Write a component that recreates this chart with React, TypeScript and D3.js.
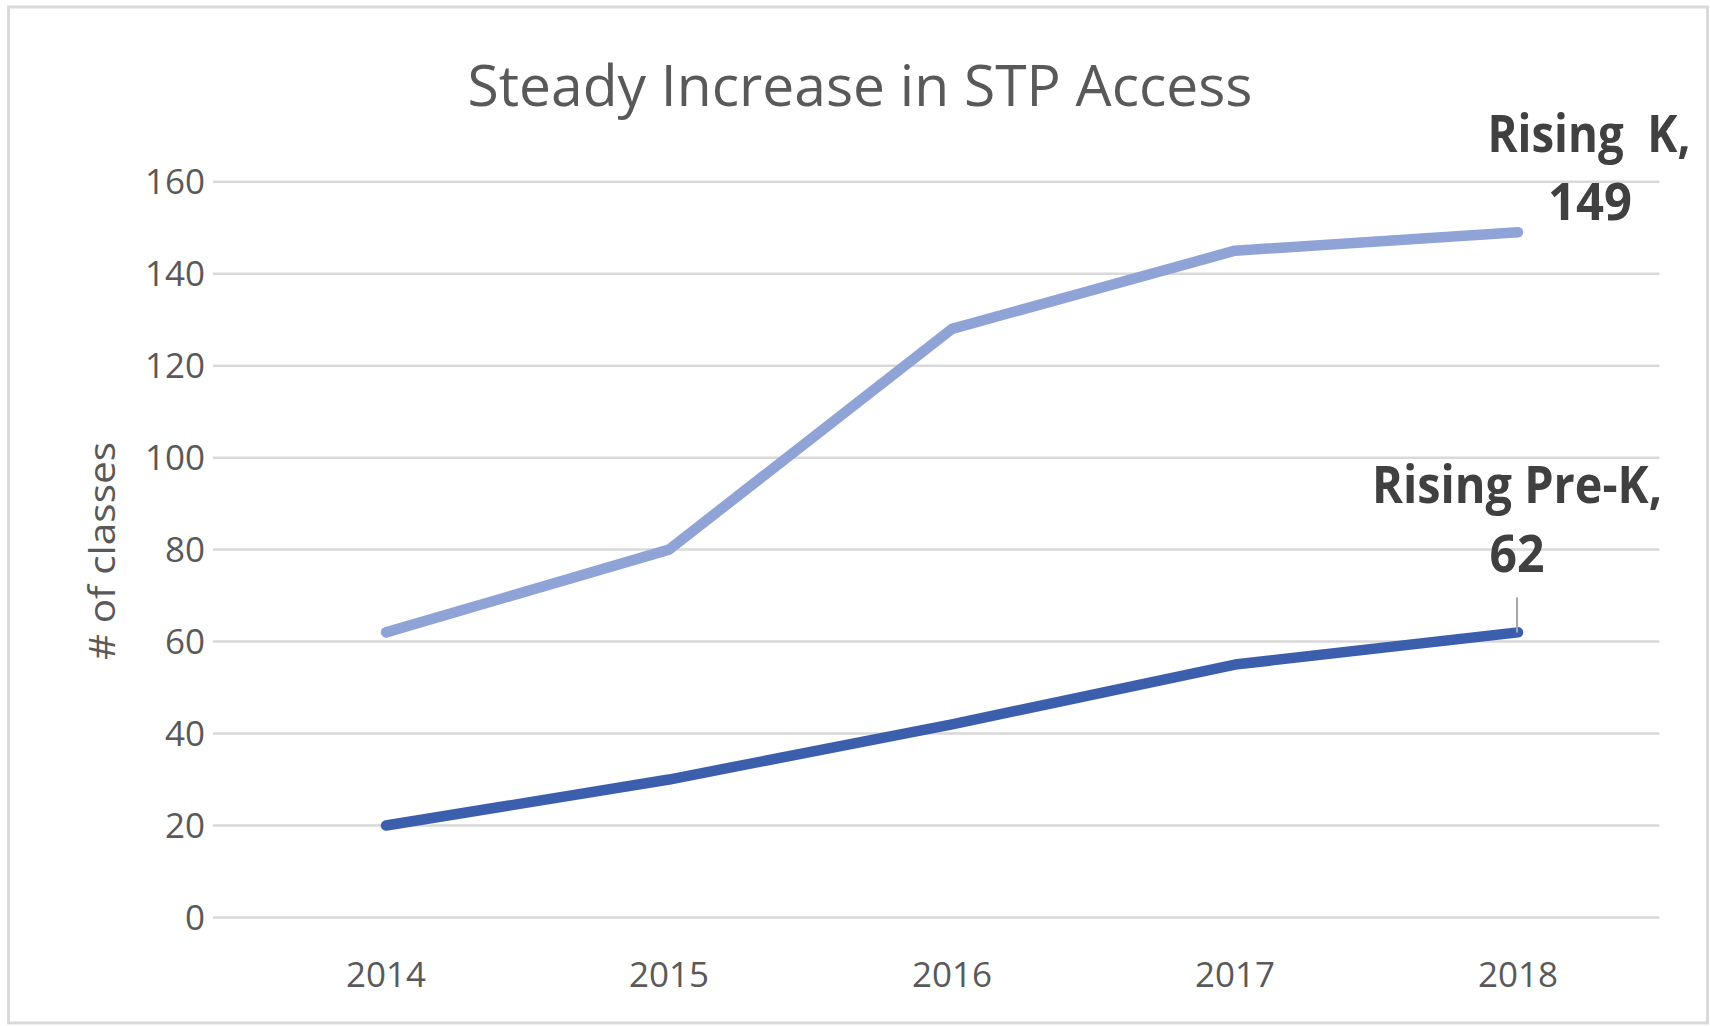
import React, { useEffect } from "react";
import * as d3 from "d3";

const years = ["2014", "2015", "2016", "2017", "2018"];
const risingK = [62, 80, 128, 145, 149];
const risingPreK = [20, 30, 42, 55, 62];
const yTicks = [0, 20, 40, 60, 80, 100, 120, 140, 160];

const W = 1710;
const H = 1026;
const FONT = "'Open Sans', 'Noto Sans', sans-serif";

export default function App() {
  useEffect(() => {
    document.body.style.margin = "0";
  }, []);

  const x = d3.scalePoint<string>().domain(years).range([244.5, 1659.5]).padding(0.5);
  const y = d3.scaleLinear().domain([0, 160]).range([917.5, 181.7]);

  const line = d3
    .line<number>()
    .x((_, i) => x(years[i]) as number)
    .y((d) => y(d));

  const lastX = x(years[years.length - 1]) as number;
  const kY = y(risingK[risingK.length - 1]);
  const pkY = y(risingPreK[risingPreK.length - 1]);

  return (
    <svg width={W} height={H} style={{ display: "block", background: "#fff" }}>
      <rect x={8.5} y={7} width={1699} height={1016} fill="#fff" stroke="#d9d9d9" strokeWidth={3} />

      <text
        x={860}
        y={106}
        textAnchor="middle"
        fontFamily={FONT}
        fontSize={56}
        fill="#595959"
        textLength={785}
        lengthAdjust="spacingAndGlyphs"
      >
        Steady Increase in STP Access
      </text>

      {/* gridlines + y ticks */}
      {yTicks.map((t) => (
        <g key={t}>
          <line x1={213} x2={1659.5} y1={y(t)} y2={y(t)} stroke="#d9d9d9" strokeWidth={2.5} />
          <text
            x={205}
            y={y(t) + 12}
            textAnchor="end"
            fontFamily={FONT}
            fontSize={35}
            fill="#595959"
          >
            {t}
          </text>
        </g>
      ))}

      {years.map((yr) => (
        <text
          key={yr}
          x={x(yr)}
          y={987}
          textAnchor="middle"
          fontFamily={FONT}
          fontSize={35}
          fill="#595959"
        >
          {yr}
        </text>
      ))}

      <text
        transform="translate(115,551) rotate(-90)"
        textAnchor="middle"
        fontFamily={FONT}
        fontSize={37}
        fill="#595959"
        textLength={218}
        lengthAdjust="spacingAndGlyphs"
      >
        # of classes
      </text>

      <path
        d={line(risingK) || ""}
        fill="none"
        stroke="#8fa3d7"
        strokeWidth={10.5}
        strokeLinejoin="round"
        strokeLinecap="round"
      />
      <path
        d={line(risingPreK) || ""}
        fill="none"
        stroke="#3b5ead"
        strokeWidth={10.5}
        strokeLinejoin="round"
        strokeLinecap="round"
      />

      {/* data labels */}
      <g fontFamily={FONT} fontWeight="bold" fontSize={52} fill="#404040" textAnchor="middle">
        <text x={lastX + 71} y={kY - 80} textLength={203} lengthAdjust="spacingAndGlyphs" xmlSpace="preserve">
          Rising  K,
        </text>
        <text x={lastX + 72} y={kY - 12} textLength={84} lengthAdjust="spacingAndGlyphs">
          149
        </text>
        <text x={lastX - 1} y={pkY - 129} textLength={290} lengthAdjust="spacingAndGlyphs">
          Rising Pre-K,
        </text>
        <text x={lastX - 1} y={pkY - 60} textLength={55} lengthAdjust="spacingAndGlyphs">
          62
        </text>
      </g>
      <line x1={lastX - 1} x2={lastX - 1} y1={pkY - 35} y2={pkY} stroke="#a6a6a6" strokeWidth={2} />
    </svg>
  );
}
